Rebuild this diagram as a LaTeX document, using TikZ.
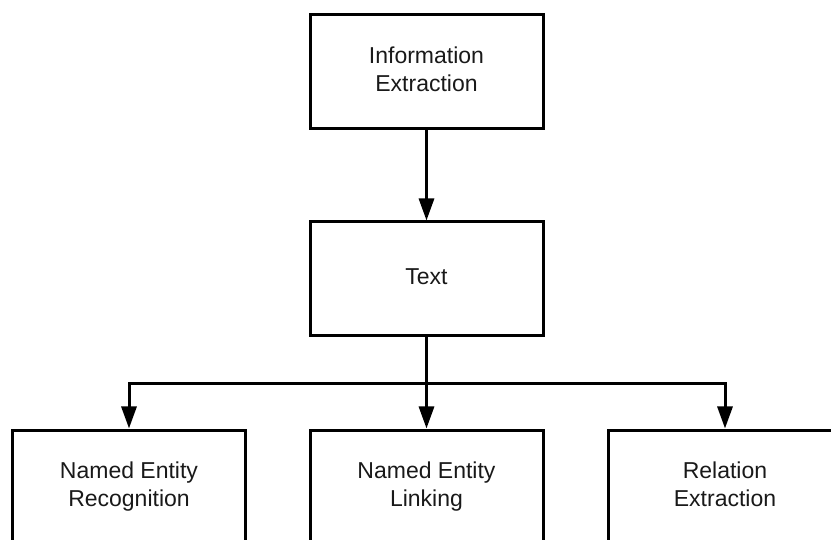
\documentclass[tikz,border=0pt]{standalone}
\usepackage{fontspec}
\setmainfont{Liberation Sans}
\usetikzlibrary{arrows.meta}
\begin{document}
\begin{tikzpicture}[x=1pt,y=-1pt,
  box/.style={draw=black, line width=3pt, minimum width=233pt, minimum height=114pt,
    inner sep=0pt, align=center, font=\fontsize{23}{27.5}\selectfont, text=black!90},
  conn/.style={line width=3pt, -{Triangle[length=22pt,width=15pt]}}]
\useasboundingbox (0,0) rectangle (831,540);
\clip (0,0) rectangle (831,540);
\node[box] (ie) at (426.5,72) {Information\strut\\Extraction\strut};
\node[box] (tx) at (426.5,279) {Text\strut};
\node[box] (ner) at (129,487) {Named Entity\strut\\Recognition\strut};
\node[box] (nel) at (426.5,487) {Named Entity\strut\\Linking\strut};
\node[box] (re) at (725,487) {Relation\strut\\Extraction\strut};
\coordinate (j) at (426.5,384);
\draw[conn] (ie) -- (tx);
\draw[conn] (tx) -- (nel);
\draw[conn] (j) -| (ner.north);
\draw[conn] (j) -| (re.north);
\end{tikzpicture}
\end{document}
